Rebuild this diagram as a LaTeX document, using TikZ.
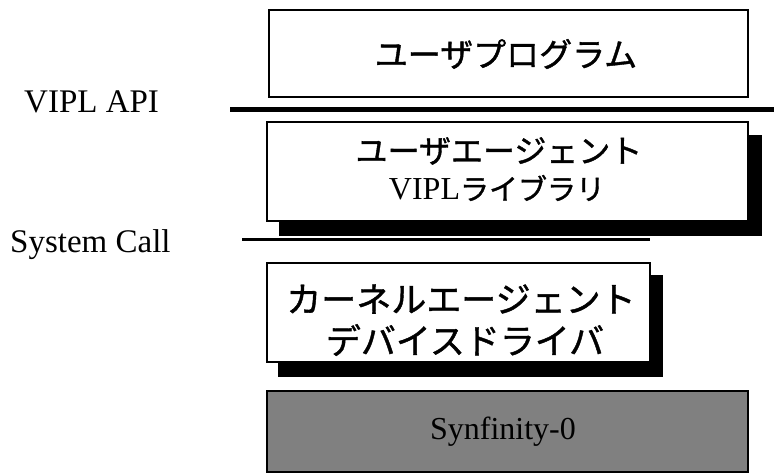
\documentclass[tikz,border=0pt]{standalone}
\usepackage{fontspec}
\setmainfont{Liberation Serif}
\newfontfamily\jp[FakeBold=1.2]{Noto Sans CJK JP}
\begin{document}
\begin{tikzpicture}[x=1pt,y=-1pt,
  layer/.style={draw=black,line width=1.6pt,fill=white},
  shadowbox/.style={fill=black,draw=none},
  apiline/.style={line width=5pt},
  sysline/.style={line width=3pt},
  lbl/.style={font=\fontsize{33}{36}\selectfont,inner sep=0pt},
  jpa/.style={font=\jp\fontsize{32}{36}\selectfont,inner sep=0pt},
  jpb/.style={font=\jp\fontsize{35}{40}\selectfont,inner sep=0pt}]
\useasboundingbox (0,0) rectangle (774,475);
% box 1
\draw[layer] (269,10) rectangle (748,97);
\node[jpa,font=\jp\fontsize{33}{36}\selectfont] (t1) at (506,54) {ユーザプログラム};
% VIPL API
\coordinate (a1) at (230,109);
\coordinate (a2) at (774,109);
\draw[apiline] (a1) -- (a2);
\node[lbl,anchor=west] (vipl) at (24,102) {VIPL API};
% box 2
\fill[shadowbox] (279,135) rectangle (762,236);
\draw[layer] (267,122) rectangle (748,221);
\node[jpa] (t2a) at (499,151) {ユーザエージェント};
\node[font=\fontsize{32}{36}\selectfont,inner sep=0pt] (t2b) at (497,188) {VIPL{\jp\fontsize{29}{36}\selectfont ライブラリ}};
% System Call
\coordinate (s1) at (242,239);
\coordinate (s2) at (650,239);
\draw[sysline] (s1) -- (s2);
\node[lbl,anchor=west] (sys) at (10,245) {System Call};
% box 3
\fill[shadowbox] (278,275) rectangle (663,377);
\draw[layer] (267,263) rectangle (650,362);
\node[jpb] (t3a) at (461,299) {カーネルエージェント};
\node[jpb] (t3b) at (465,340) {デバイスドライバ};
% box 4
\draw[draw=black,line width=1.6pt,fill=black!50] (267,391) rectangle (748,472);
\node[inner sep=0pt,font=\fontsize{32}{36}\selectfont] (t4) at (503,432) {Synfinity-0};
\end{tikzpicture}
\end{document}
